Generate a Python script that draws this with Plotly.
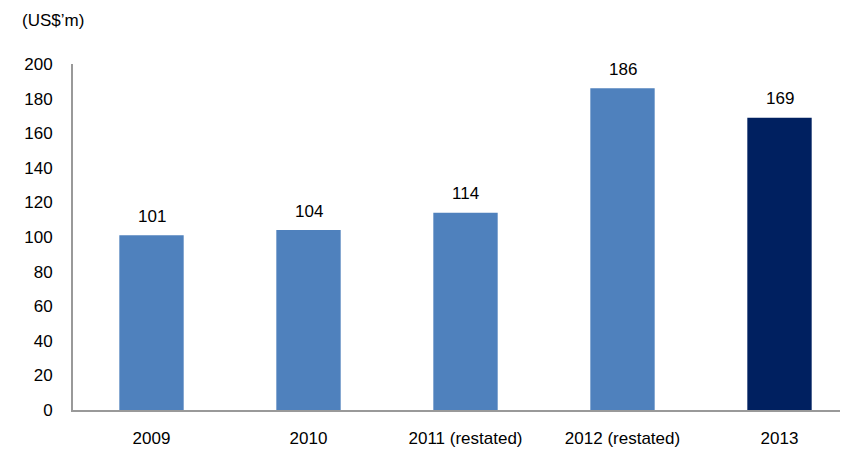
import plotly.graph_objects as go

categories = ["2009", "2010", "2011 (restated)", "2012 (restated)", "2013"]
values = [101, 104, 114, 186, 169]
colors = ["#4F81BD", "#4F81BD", "#4F81BD", "#4F81BD", "#002060"]
y_ticks = [0, 20, 40, 60, 80, 100, 120, 140, 160, 180, 200]

fig = go.Figure(go.Bar(
    x=categories, y=values, marker_color=colors, marker_line_width=0,
    width=0.41,
))

# value labels placed a fixed pixel distance above each bar
annotations = [dict(x=i, y=v, xref="x", yref="y", text=str(v), showarrow=False,
                    yanchor="middle", yshift=19, font=dict(size=17, color="#000000"))
               for i, v in enumerate(values)]
annotations.append(dict(text="(US$\u2019m)", x=0, xref="paper", xanchor="left",
                        xshift=-53, y=1, yref="paper", yshift=44, yanchor="middle",
                        showarrow=False, font=dict(size=17)))

fig.update_layout(
    width=840, height=443,
    margin=dict(l=65, r=0, t=56, b=41, pad=0, autoexpand=False),
    paper_bgcolor="white", plot_bgcolor="white",
    font=dict(family="Liberation Sans, Arial, sans-serif", size=17, color="#000000"),
    showlegend=False,
    annotations=annotations,
)
fig.update_xaxes(type="category", range=[-0.5, -0.5 + 775 / 157], showline=True,
                 linecolor="#999999", linewidth=2, ticks="", showgrid=False,
                 ticklabelstandoff=12, tickfont=dict(size=17))
fig.update_yaxes(range=[0, 200], tickvals=y_ticks, showline=True, linecolor="#999999",
                 linewidth=2, showgrid=False, zeroline=False, ticks="",
                 ticklabelstandoff=15, tickfont=dict(size=17))

fig.write_html("out.html")
